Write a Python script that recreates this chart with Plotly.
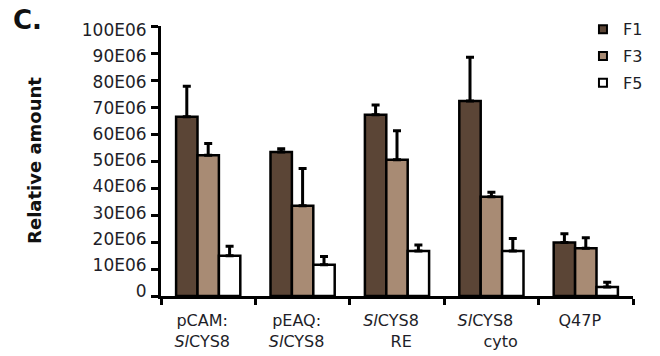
import plotly.graph_objects as go

# Constructs (x categories) and their two-line axis labels
constructs = ["pCAM:SlCYS8", "pEAQ:SlCYS8", "SlCYS8 RE", "SlCYS8 cyto", "Q47P"]
construct_labels = [
    "pCAM:<br><i>Sl</i>CYS8",
    "pEAQ:<br><i>Sl</i>CYS8",
    "<i>Sl</i>CYS8<br>\u00a0\u00a0\u00a0\u00a0RE",
    "<i>Sl</i>CYS8<br>\u00a0\u00a0\u00a0\u00a0\u00a0\u00a0cyto",
    "Q47P",
]

# Relative amounts (x 1E06) per fraction, with upper error bars
f1 = [66.4, 53.3, 67.1, 72.2, 19.8]
f1_err = [11.3, 1.2, 3.6, 16.2, 3.3]
f3 = [52.1, 33.4, 50.5, 36.8, 17.7]
f3_err = [4.4, 13.8, 10.7, 1.6, 3.9]
f5 = [14.9, 11.6, 16.7, 16.7, 3.3]
f5_err = [3.5, 3.0, 2.2, 4.6, 1.8]

y_ticks = [0, 10, 20, 30, 40, 50, 60, 70, 80, 90, 100]
y_tick_text = ["0", "10E06", "20E06", "30E06", "40E06", "50E06",
               "60E06", "70E06", "80E06", "90E06", "100E06"]

series = [
    ("F1", f1, f1_err, "#5b4536"),
    ("F3", f3, f3_err, "#a88b74"),
    ("F5", f5, f5_err, "#ffffff"),
]

FONT = "DejaVu Sans"
TXT = "#1e1e28"

fig = go.Figure()
for name, vals, errs, color in series:
    fig.add_trace(go.Bar(
        x=constructs, y=vals, name=name, showlegend=False,
        marker=dict(color=color, line=dict(color="black", width=2.5)),
        error_y=dict(type="data", symmetric=False, array=errs,
                     arrayminus=[0] * len(errs),
                     color="black", thickness=3, width=4),
    ))

# Small square swatches for the legend
for i, (name, vals, errs, color) in enumerate(series):
    fig.add_trace(go.Scatter(
        x=[None], y=[None], mode="markers", name=name, legendgroup=name,
        marker=dict(symbol="square", size=8, color=color,
                    line=dict(color="black", width=2)),
    ))

fig.update_layout(
    width=660, height=356,
    margin=dict(l=161, r=27, t=24, b=60),
    paper_bgcolor="white", plot_bgcolor="white",
    barmode="group", bargap=0.32, bargroupgap=0,
    font=dict(family=FONT, size=17, color=TXT),
    showlegend=True,
    legend=dict(x=0.894, y=1.051, xanchor="left", yanchor="top",
                font=dict(family=FONT, size=16, color=TXT),
                bgcolor="rgba(0,0,0,0)", tracegroupgap=3,
                itemclick=False),
    xaxis=dict(
        type="category", tickmode="array", tickvals=constructs,
        ticktext=construct_labels, tickson="boundaries",
        showline=True, linecolor="black", linewidth=3,
        ticks="outside", ticklen=6, tickwidth=3, tickcolor="black",
        showgrid=False, zeroline=False, ticklabelshift=-6,
        ticklabelstandoff=8, automargin=False,
        tickfont=dict(family=FONT, size=16, color=TXT),
    ),
    yaxis=dict(
        range=[0, 100], tickvals=y_ticks, showticklabels=False,
        showline=True, linecolor="black", linewidth=3,
        ticks="outside", ticklen=7, tickwidth=3, tickcolor="black",
        showgrid=False, zeroline=False, automargin=False,
    ),
    # label axis: the printed tick labels sit on a slightly tighter pitch
    yaxis2=dict(
        overlaying="y", side="left", anchor="x",
        range=[-1.9, 101.44], tickmode="array", tickvals=y_ticks,
        ticktext=y_tick_text, showline=False, showgrid=False,
        zeroline=False, ticks="outside", ticklen=7,
        tickcolor="rgba(0,0,0,0)", ticklabelstandoff=3, automargin=False,
        tickfont=dict(family=FONT, size=17, color=TXT),
    ),
    annotations=[
        dict(text="<b>C.</b>", xref="paper", yref="paper",
             x=-0.318, y=1.024, xanchor="left", yanchor="middle",
             showarrow=False, font=dict(family=FONT, size=26, color="#111")),
        dict(text="<b>Relative amount</b>", xref="paper", yref="paper",
             x=-0.267, y=0.504, xanchor="center", yanchor="middle",
             textangle=-90, showarrow=False,
             font=dict(family=FONT, size=18, color="#111")),
    ],
)

# keep the label axis drawn even though no bar uses it
fig.add_trace(go.Scatter(x=[constructs[0]], y=[None], yaxis="y2",
                         showlegend=False, hoverinfo="skip"))

fig.write_html("out.html")
